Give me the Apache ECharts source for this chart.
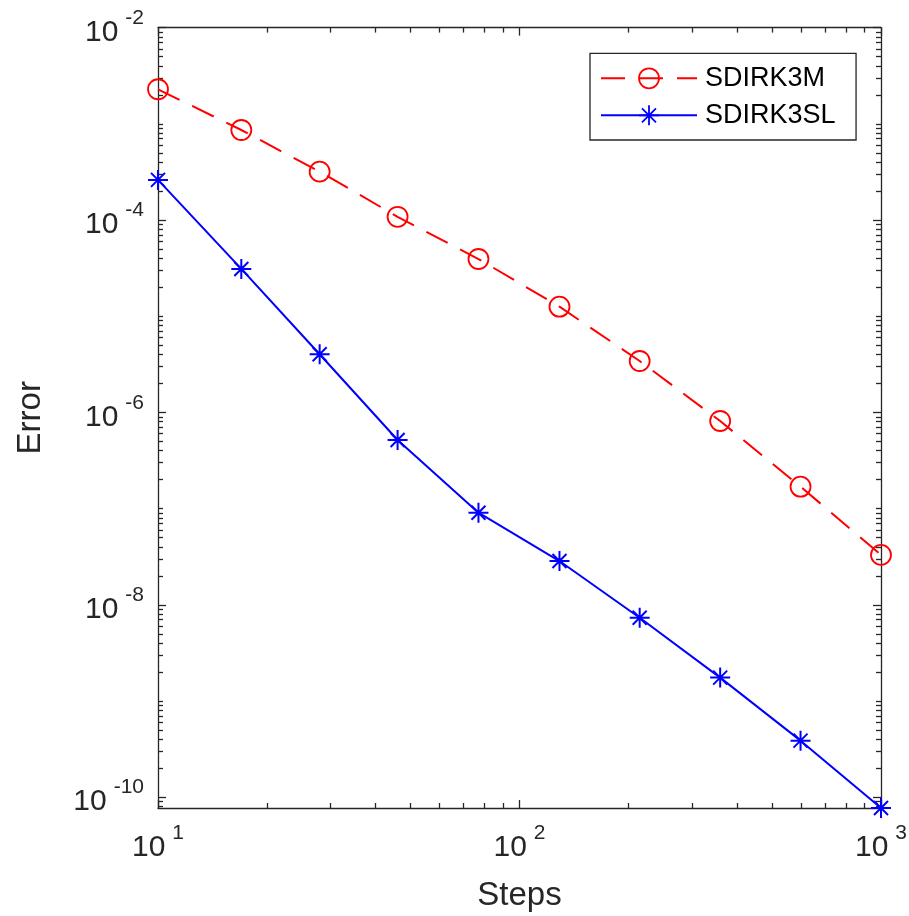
<!DOCTYPE html>
<html>
<head>
<meta charset="utf-8">
<script src="https://cdn.jsdelivr.net/npm/echarts@6/dist/echarts.min.js"></script>
<style>html,body{margin:0;padding:0;background:#fff}#c{width:909px;height:916px}</style>
</head>
<body>
<div id="c"></div>
<script>
// ---- data ----
const steps = [10, 17, 28, 46, 77, 129, 215, 359, 599, 1000];
const errSDIRK3M = [2.285e-3, 8.62e-4, 3.18e-4, 1.08e-4, 3.93e-5, 1.256e-5, 3.42e-6, 8.14e-7, 1.69e-7, 3.30e-8];
const errSDIRK3SL = [2.61e-4, 3.10e-5, 4.02e-6, 5.16e-7, 9.06e-8, 2.85e-8, 7.34e-9, 1.75e-9, 3.87e-10, 7.72e-11];
const seriesNames = ['SDIRK3M', 'SDIRK3SL'];
const xTickExponents = [1, 2, 3];
const yTickExponents = [-10, -8, -6, -4, -2];
const xAxisName = 'Steps';
const yAxisName = 'Error';

// ---- styling ----
const FONT = '"Liberation Sans", Arial, Helvetica, sans-serif';
const AX = '#262626';
const xMin = Math.pow(10, xTickExponents[0]);
const xMax = Math.pow(10, xTickExponents[xTickExponents.length - 1]);
const yMax = Math.pow(10, yTickExponents[yTickExponents.length - 1]);
const yMin = Math.min.apply(null, errSDIRK3SL.concat(errSDIRK3M));

const xMajor = xTickExponents.map(e => Math.pow(10, e));
const yMajor = yTickExponents.map(e => Math.pow(10, e));
function minorTicks(lo, hi, majorExps) {
  const out = [];
  for (let d = Math.floor(Math.log10(lo)) - 1; d <= Math.ceil(Math.log10(hi)); d++) {
    for (let k = 1; k <= 9; k++) {
      if (k === 1 && majorExps.indexOf(d) >= 0) continue;
      const v = k * Math.pow(10, d);
      if (v >= lo * 0.999999 && v <= hi * 1.000001) out.push(v);
    }
  }
  return out;
}
const xMinor = minorTicks(xMin, xMax, xTickExponents);
const yMinor = minorTicks(yMin, yMax, yTickExponents);

function expLabel(v) {
  const e = Math.round(Math.log10(v));
  return '{b|10}{s|' + e + '}';
}
const rich = {
  b: { fontSize: 30, lineHeight: 40, verticalAlign: 'bottom', fontFamily: FONT, color: AX },
  s: { fontSize: 21, lineHeight: 21, verticalAlign: 'top', padding: [0, 0, 0, 7], fontFamily: FONT, color: AX }
};

function axis(pos, min, max, ticks, len, showLine, labels, extra) {
  const a = {
    type: 'log', logBase: 10, gridIndex: 0, position: pos, min: min, max: max,
    axisLine: { show: showLine, onZero: false, lineStyle: { color: AX, width: 1.3 } },
    axisTick: { show: true, inside: true, length: len, customValues: ticks, lineStyle: { color: AX, width: 1.3 } },
    axisLabel: labels ? { show: true, customValues: labels, formatter: expLabel, rich: rich, margin: 14 } : { show: false },
    splitLine: { show: false }, minorTick: { show: false }, minorSplitLine: { show: false },
    axisPointer: { show: false }
  };
  return Object.assign(a, extra || {});
}

const nameStyle = { fontSize: 33, fontFamily: FONT, color: AX, verticalAlign: 'middle' };

const option = {
  animation: false,
  backgroundColor: '#fff',
  grid: { left: 158, right: 28, top: 27.6, bottom: 108, containLabel: false, outerBoundsMode: 'none' },
  xAxis: [
    axis('bottom', xMin, xMax, xMajor, 8, true, xMajor, {
      name: xAxisName, nameLocation: 'middle', nameGap: 88, nameTextStyle: nameStyle,
      axisLabel: { show: true, customValues: xMajor, formatter: expLabel, rich: rich, margin: 15 }
    }),
    axis('bottom', xMin, xMax, xMinor, 5, false, null),
    axis('top', xMin, xMax, xMajor, 8, true, null),
    axis('top', xMin, xMax, xMinor, 5, false, null)
  ],
  yAxis: [
    axis('left', yMin, yMax, yMajor, 8, true, yMajor, {
      name: yAxisName, nameLocation: 'middle', nameGap: 127, nameTextStyle: nameStyle
    }),
    axis('left', yMin, yMax, yMinor, 5, false, null),
    axis('right', yMin, yMax, yMajor, 8, true, null),
    axis('right', yMin, yMax, yMinor, 5, false, null)
  ],
  legend: {
    orient: 'vertical', left: 590, top: 53.3,
    padding: [11.5, 20.5, 11.2, 10], itemGap: 10, itemWidth: 96, itemHeight: 25,
    borderColor: AX, borderWidth: 1.3, backgroundColor: '#fff',
    textStyle: { fontSize: 27, lineHeight: 25, color: '#000', fontFamily: FONT, padding: [0, 0, 0, 3] },
    selectedMode: false,
    data: [
      { name: seriesNames[0], itemStyle: { color: 'rgba(255,0,0,0)', borderColor: '#ff0000', borderWidth: 1.8 },
        lineStyle: { color: '#ff0000', width: 2, type: [24, 14] } },
      { name: seriesNames[1], itemStyle: { color: 'rgba(0,0,255,0)', borderColor: '#0000ff', borderWidth: 1.8 },
        lineStyle: { color: '#0000ff', width: 2, type: 'solid' } }
    ]
  },
  series: [
    {
      name: seriesNames[0], type: 'line', xAxisIndex: 0, yAxisIndex: 0, clip: false,
      data: steps.map((x, i) => [x, errSDIRK3M[i]]),
      symbol: 'circle', symbolSize: 20, showAllSymbol: true,
      lineStyle: { color: '#ff0000', width: 2, type: [24, 14] },
      itemStyle: { color: 'rgba(255,0,0,0)', borderColor: '#ff0000', borderWidth: 1.8 },
      emphasis: { disabled: true }
    },
    {
      name: seriesNames[1], type: 'line', xAxisIndex: 0, yAxisIndex: 0, clip: false,
      data: steps.map((x, i) => [x, errSDIRK3SL[i]]),
      symbol: 'path://M0,-1L0,1M-1,0L1,0M-0.7,-0.7L0.7,0.7M-0.7,0.7L0.7,-0.7', symbolSize: 20, showAllSymbol: true,
      lineStyle: { color: '#0000ff', width: 2 },
      itemStyle: { color: 'rgba(0,0,255,0)', borderColor: '#0000ff', borderWidth: 2 },
      emphasis: { disabled: true }
    }
  ]
};

const chart = echarts.init(document.getElementById('c'), null, { renderer: 'canvas' });
chart.setOption(option);
</script>
</body>
</html>
